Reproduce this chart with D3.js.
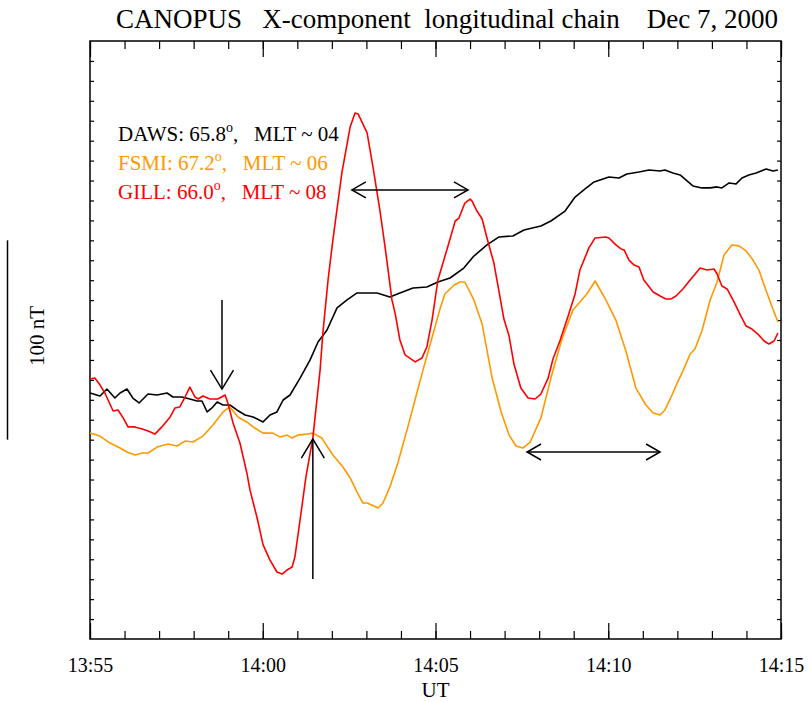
<!DOCTYPE html>
<html>
<head>
<meta charset="utf-8">
<script src="https://cdn.jsdelivr.net/npm/d3@7"></script>
<style>
  body { margin: 0; background: #fff; }
  svg text { font-family: "Liberation Serif", "Times New Roman", serif; white-space: pre; }
</style>
</head>
<body>
<svg id="chart" width="811" height="702"></svg>
<script>
// Minutes after 13:55 UT, X-component in nT (arbitrary baseline)
const dawsT = [0, 0.29, 0.49, 0.72, 0.87, 1.07, 1.24, 1.42, 1.68, 1.94, 2.23, 2.40, 2.66, 2.89, 3.10, 3.24, 3.39, 3.53, 3.68, 3.85, 4.05, 4.25, 4.49, 4.72, 5.01, 5.21, 5.41, 5.59, 5.79, 6.08, 6.37, 6.60, 6.86, 7.15, 7.44, 7.73, 8.02, 8.31, 8.68, 8.97, 9.35, 9.75, 10.07, 10.42, 10.82, 11.11, 11.49, 11.84, 12.24, 12.56, 13.05, 13.34, 13.75, 14.04, 14.33, 14.59, 15.02, 15.31, 15.54, 15.89, 16.18, 16.50, 16.64, 16.87, 17.08, 17.28, 17.45, 17.71, 17.95, 18.15, 18.29, 18.50, 18.70, 18.87, 19.07, 19.28, 19.57, 19.77, 19.91];
const dawsX = [123.4, 121.9, 125.4, 120.9, 123.4, 125.4, 120.9, 118.4, 122.9, 122.4, 123.4, 121.4, 121.4, 120.4, 119.4, 119.4, 113.9, 115.9, 118.9, 117.4, 117.4, 114.9, 112.4, 111.4, 108.9, 112.4, 113.9, 119.9, 122.4, 130.9, 140.0, 149.0, 155.0, 166.1, 170.1, 173.6, 173.6, 173.6, 171.6, 173.6, 176.1, 176.6, 179.1, 181.1, 186.1, 192.1, 197.7, 201.7, 202.2, 205.2, 207.2, 209.7, 214.7, 221.7, 225.8, 229.3, 231.8, 231.3, 233.3, 234.3, 235.3, 234.8, 235.3, 233.8, 232.8, 229.8, 227.3, 226.3, 226.3, 226.8, 226.3, 228.8, 228.3, 231.3, 232.8, 233.8, 235.8, 234.8, 235.3];

const fsmiT = [0, 0.29, 0.58, 0.87, 1.07, 1.30, 1.51, 1.68, 1.94, 2.26, 2.52, 2.75, 2.98, 3.27, 3.56, 3.85, 4.05, 4.28, 4.54, 4.72, 5.01, 5.30, 5.50, 5.71, 5.85, 6.02, 6.28, 6.45, 6.71, 7.03, 7.32, 7.53, 7.73, 7.90, 8.02, 8.34, 8.48, 8.68, 8.91, 9.20, 9.46, 9.64, 9.84, 10.13, 10.27, 10.54, 10.71, 10.85, 11.11, 11.35, 11.64, 11.90, 12.13, 12.33, 12.53, 12.74, 13.05, 13.34, 13.66, 13.98, 14.38, 14.62, 14.93, 15.22, 15.51, 15.80, 16.09, 16.30, 16.50, 16.64, 16.82, 17.02, 17.16, 17.37, 17.51, 17.71, 17.95, 18.15, 18.35, 18.58, 18.78, 18.99, 19.19, 19.36, 19.51, 19.71, 19.91];
const fsmiX = [103.3, 101.8, 98.3, 95.8, 93.8, 92.3, 93.3, 93.3, 96.3, 97.8, 96.8, 99.3, 98.8, 101.8, 107.4, 113.9, 116.4, 111.4, 108.9, 106.4, 103.3, 103.3, 101.3, 102.3, 100.8, 102.3, 102.8, 103.3, 100.8, 92.3, 86.3, 80.8, 73.7, 68.2, 68.2, 65.7, 68.2, 76.3, 88.3, 106.4, 123.4, 135.0, 147.5, 165.6, 173.1, 177.6, 179.1, 179.1, 170.1, 158.0, 130.9, 113.9, 102.3, 96.8, 95.8, 98.8, 110.9, 130.9, 150.5, 165.1, 173.1, 179.6, 170.1, 160.0, 144.5, 125.9, 117.4, 113.4, 112.4, 114.9, 121.4, 129.4, 134.4, 143.0, 145.5, 154.5, 170.1, 179.1, 192.6, 197.7, 197.2, 194.7, 190.1, 185.1, 177.6, 168.1, 159.0];

const gillT = [0, 0.14, 0.29, 0.43, 0.67, 0.81, 0.96, 1.10, 1.30, 1.51, 1.68, 1.88, 2.08, 2.32, 2.46, 2.60, 2.75, 2.89, 3.04, 3.13, 3.27, 3.47, 3.70, 3.91, 3.99, 4.14, 4.34, 4.54, 4.63, 4.83, 5.01, 5.21, 5.41, 5.56, 5.70, 5.85, 5.93, 6.08, 6.25, 6.45, 6.66, 6.74, 6.89, 7.03, 7.29, 7.53, 7.67, 7.76, 8.02, 8.19, 8.39, 8.54, 8.74, 8.83, 8.97, 9.12, 9.41, 9.61, 9.75, 9.90, 10.07, 10.37, 10.57, 10.68, 10.85, 11.00, 11.06, 11.20, 11.35, 11.49, 11.69, 11.84, 11.98, 12.13, 12.27, 12.47, 12.68, 12.88, 13.05, 13.26, 13.40, 13.60, 13.83, 14.04, 14.18, 14.44, 14.62, 14.93, 15.02, 15.22, 15.37, 15.46, 15.60, 15.75, 15.89, 16.03, 16.30, 16.50, 16.67, 16.82, 16.96, 17.16, 17.37, 17.66, 17.86, 18.06, 18.15, 18.29, 18.44, 18.64, 18.84, 18.99, 19.16, 19.33, 19.51, 19.65, 19.80, 19.91];
const gillX = [130.4, 130.9, 127.4, 123.4, 114.4, 114.9, 110.9, 106.4, 106.4, 105.4, 104.3, 102.8, 106.4, 111.4, 115.9, 116.4, 121.4, 126.4, 121.4, 120.4, 121.9, 120.4, 120.4, 122.4, 118.4, 108.4, 98.3, 83.3, 74.8, 61.2, 47.2, 39.6, 33.6, 32.6, 34.6, 36.1, 41.1, 59.7, 81.3, 100.8, 135.0, 153.5, 180.1, 200.2, 233.8, 256.9, 263.9, 263.4, 253.9, 236.8, 215.2, 196.7, 170.1, 163.5, 150.0, 142.5, 139.0, 141.0, 146.5, 160.0, 180.1, 197.7, 209.7, 211.2, 218.7, 220.7, 219.7, 214.7, 210.7, 201.2, 188.6, 174.1, 160.5, 152.0, 138.0, 125.9, 120.9, 120.4, 122.9, 130.9, 140.5, 149.5, 161.5, 173.1, 185.1, 196.2, 201.2, 201.7, 201.2, 197.7, 195.7, 195.2, 190.1, 187.6, 186.6, 180.1, 174.1, 172.1, 170.6, 170.6, 172.1, 175.6, 180.1, 186.1, 185.1, 185.6, 183.1, 177.1, 175.6, 169.1, 162.0, 157.0, 155.5, 153.0, 149.5, 148.0, 149.5, 153.5];

const stations = ["DAWS", "FSMI", "GILL"];
const lats = ["65.8", "67.2", "66.0"];
const mlts = ["04", "06", "08"];
const colors = ["#000000", "#ff9900", "#ff0000"];

const tickLabels = ["13:55", "14:00", "14:05", "14:10", "14:15"];
const majorTicks = [0, 5, 10, 15, 20];

// arrows: vertical [t, v from, t, v tip], horizontal [t left, t right, v]
const vArrows = [[3.82, 170.1, 3.82, 125.4], [6.45, 30.1, 6.45, 100.3]];
const hArrows = [[7.58, 10.94, 225.3], [12.65, 16.50, 93.8]];

const svg = d3.select("#chart");
const L = 90, R = 781, T = 41, B = 639;

const x = d3.scaleLinear().domain([0, 20]).range([L, R]);
const y = d3.scaleLinear().domain([0, 300]).range([B, T]);

// frame
svg.append("rect")
  .attr("x", L).attr("y", T).attr("width", R - L).attr("height", B - T)
  .attr("fill", "none").attr("stroke", "#000").attr("stroke-width", 1.5);

const minor = d3.range(0, 21);
const axisG = svg.append("g").attr("class", "axes");

// bottom and top, inward ticks
axisG.append("g").attr("transform", `translate(0,${B})`)
  .call(d3.axisBottom(x).tickValues(minor).tickSizeInner(-8).tickSizeOuter(0).tickFormat(""));
axisG.append("g").attr("transform", `translate(0,${B})`)
  .call(d3.axisBottom(x).tickValues(majorTicks).tickSizeInner(-16).tickSizeOuter(0)
    .tickPadding(19).tickFormat((d, i) => tickLabels[i]));
axisG.append("g").attr("transform", `translate(0,${T})`)
  .call(d3.axisTop(x).tickValues(minor).tickSizeInner(-8).tickSizeOuter(0).tickFormat(""));
axisG.append("g").attr("transform", `translate(0,${T})`)
  .call(d3.axisTop(x).tickValues(majorTicks).tickSizeInner(-16).tickSizeOuter(0).tickFormat(""));

// left and right small ticks every 10 nT
const yt = d3.range(10, 300, 10);
axisG.append("g").attr("transform", `translate(${L},0)`)
  .call(d3.axisLeft(y).tickValues(yt).tickSizeInner(-4).tickSizeOuter(0).tickFormat(""));
axisG.append("g").attr("transform", `translate(${R},0)`)
  .call(d3.axisRight(y).tickValues(yt).tickSizeInner(-4).tickSizeOuter(0).tickFormat(""));

axisG.selectAll(".domain").remove();
axisG.selectAll(".tick line").attr("stroke", "#000").attr("stroke-width", 1.2);
axisG.selectAll(".tick text")
  .attr("font-family", "Liberation Serif, serif")
  .attr("font-size", 20).attr("fill", "#000");

// x title
svg.append("text").attr("x", (L + R) / 2).attr("y", 697)
  .attr("text-anchor", "middle").attr("font-size", 21).text("UT");

// title
svg.append("text").attr("x", 447).attr("y", 28)
  .attr("text-anchor", "middle").attr("font-size", 27)
  .text("CANOPUS   X-component  longitudinal chain    Dec 7, 2000");

// 100 nT scale bar
svg.append("line")
  .attr("x1", 7.5).attr("x2", 7.5)
  .attr("y1", y(200)).attr("y2", y(100))
  .attr("stroke", "#000").attr("stroke-width", 1.5);
svg.append("text")
  .attr("transform", `translate(44,${(y(200) + y(100)) / 2 - 4}) rotate(-90)`)
  .attr("text-anchor", "middle").attr("font-size", 21).text("100 nT");

// series
const series = [[dawsT, dawsX], [fsmiT, fsmiX], [gillT, gillX]];
const line = d3.line().x(d => x(d[0])).y(d => y(d[1]));
series.forEach(([ts, vs], i) => {
  svg.append("path")
    .datum(d3.zip(ts, vs))
    .attr("fill", "none")
    .attr("stroke", colors[i])
    .attr("stroke-width", 1.6)
    .attr("stroke-linejoin", "round")
    .attr("d", line);
});

// legend
const leg = svg.append("g");
stations.forEach((s, i) => {
  const t = leg.append("text")
    .attr("x", 118).attr("y", 141 + i * 29)
    .attr("font-size", 21).attr("fill", colors[i]);
  t.append("tspan").text(`${s}: ${lats[i]}`);
  t.append("tspan").attr("dy", -9).attr("font-size", 14).text("o");
  t.append("tspan").attr("dy", 9).text(`,   MLT ~ ${mlts[i]}`);
});

// arrows
const arr = svg.append("g").attr("stroke", "#000").attr("stroke-width", 1.5).attr("fill", "none");
vArrows.forEach(([t1, v1, t2, v2]) => {
  const xa = x(t1), ya = y(v1), yb = y(v2);
  const dir = yb > ya ? -1 : 1;
  arr.append("line").attr("x1", xa).attr("y1", ya).attr("x2", x(t2)).attr("y2", yb);
  arr.append("path").attr("d", `M${xa - 11.5},${yb + dir * 19}L${xa},${yb}L${xa + 11.5},${yb + dir * 19}`);
});
hArrows.forEach(([t1, t2, v]) => {
  const xa = x(t1), xb = x(t2), yy = y(v);
  arr.append("line").attr("x1", xa).attr("y1", yy).attr("x2", xb).attr("y2", yy);
  arr.append("path").attr("d", `M${xa + 14},${yy - 8}L${xa},${yy}L${xa + 14},${yy + 8}`);
  arr.append("path").attr("d", `M${xb - 14},${yy - 8}L${xb},${yy}L${xb - 14},${yy + 8}`);
});
</script>
</body>
</html>
